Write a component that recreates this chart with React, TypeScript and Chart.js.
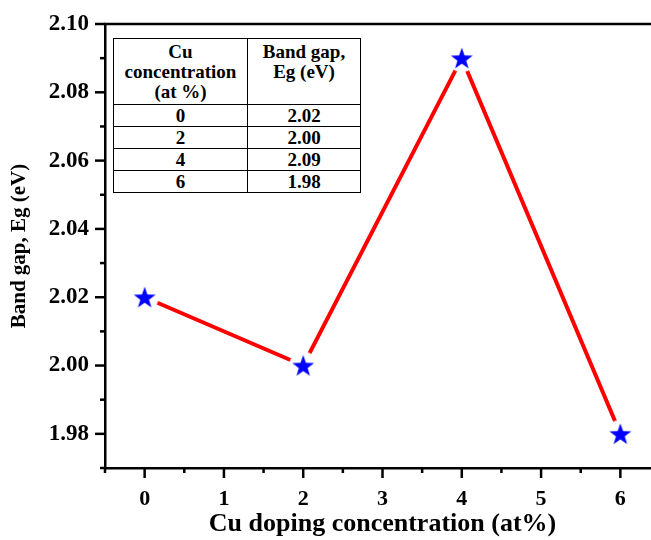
import React, { useEffect, useRef } from 'react';
import { Chart, registerables } from 'chart.js';

Chart.register(...registerables);

// ---- data ----
const concentrations = [0, 2, 4, 6];
const bandGaps = [2.02, 2.0, 2.09, 1.98];
const xTickValues = [0, 1, 2, 3, 4, 5, 6];
const yTickValues = [1.98, 2.0, 2.02, 2.04, 2.06, 2.08, 2.1];
const tableHeaderCol1 = ['Cu', 'concentration', '(at %)'];
const tableHeaderCol2 = ['Band gap,', 'Eg (eV)'];
const xTitle = 'Cu doping concentration (at%)';
const yTitle = 'Band gap, Eg (eV)';

const FONT = '"Liberation Serif", "Times New Roman", serif';

function makeStar(): HTMLCanvasElement {
  const size = 32;
  const c = document.createElement('canvas');
  c.width = size;
  c.height = size;
  const ctx = c.getContext('2d')!;
  const cx = size / 2;
  const cy = size / 2;
  ctx.fillStyle = '#ffffff';
  ctx.beginPath();
  ctx.arc(cx, cy, 14, 0, Math.PI * 2);
  ctx.fill();
  const outer = 11.5;
  const inner = 4.6;
  ctx.fillStyle = '#0000ff';
  ctx.beginPath();
  for (let i = 0; i < 10; i++) {
    const r = i % 2 === 0 ? outer : inner;
    const a = -Math.PI / 2 + (i * Math.PI) / 5;
    const px = cx + r * Math.cos(a);
    const py = cy + 1 + r * Math.sin(a);
    if (i === 0) ctx.moveTo(px, py);
    else ctx.lineTo(px, py);
  }
  ctx.closePath();
  ctx.fill();
  return c;
}

const tickPlugin = {
  id: 'originTicks',
  afterDraw(chart: any) {
    const { ctx, chartArea: a, scales } = chart;
    const x = scales.x;
    const y = scales.y;
    ctx.save();
    ctx.strokeStyle = '#000';
    ctx.lineWidth = 2.5;
    ctx.lineCap = 'butt';
    // top frame line
    ctx.beginPath();
    ctx.moveTo(a.left - 1, a.top);
    ctx.lineTo(a.right, a.top);
    ctx.stroke();
    // x ticks (major at integers, minor at halves)
    const xn = Math.round((x.max - x.min) / 0.5);
    for (let i = 0; i <= xn; i++) {
      const v = x.min + i * 0.5;
      const major = Math.abs(v - Math.round(v)) < 1e-6;
      const px = x.getPixelForValue(v);
      ctx.beginPath();
      ctx.moveTo(px, a.bottom);
      ctx.lineTo(px, a.bottom + (major ? 10 : 5));
      ctx.stroke();
    }
    // y ticks (major every 0.02, minor every 0.01)
    const yn = Math.round((y.max - y.min) / 0.01);
    for (let i = 0; i <= yn; i++) {
      const v = y.min + i * 0.01;
      const major = Math.round(v * 100) % 2 === 0;
      const py = y.getPixelForValue(v);
      ctx.beginPath();
      ctx.moveTo(a.left, py);
      ctx.lineTo(a.left - (major ? 10 : 5), py);
      ctx.stroke();
    }
    ctx.restore();
  },
};

export default function App() {
  const ref = useRef<HTMLCanvasElement>(null);

  useEffect(() => {
    if (!ref.current) return;
    const star = makeStar();
    const chart = new Chart(ref.current, {
      type: 'line',
      data: {
        datasets: [
          {
            data: concentrations.map((c, i) => ({ x: c, y: bandGaps[i] })),
            borderColor: '#ff0000',
            borderWidth: 4,
            pointStyle: star as any,
            pointRadius: 12,
            pointHoverRadius: 12,
            tension: 0,
            clip: false as any,
          },
        ],
      },
      options: {
        responsive: false,
        animation: false,
        events: [],
        layout: { padding: { top: 24, right: 40, left: 0, bottom: 0 } },
        plugins: { legend: { display: false }, tooltip: { enabled: false } },
        scales: {
          x: {
            type: 'linear',
            min: -0.5,
            max: 6.5,
            afterFit: (s: any) => {
              s.height = 72;
              s.paddingLeft = 0;
              s.paddingRight = 0;
            },
            afterBuildTicks: (s: any) => {
              s.ticks = xTickValues.map((v) => ({ value: v }));
            },
            grid: { display: true, drawOnChartArea: false, drawTicks: false },
            border: { display: true, color: '#000', width: 2.5 },
            ticks: {
              color: '#000',
              padding: 18,
              font: { family: FONT, size: 22, weight: 'bold' },
              callback: (v: any) => String(v),
            },
            title: {
              display: true,
              text: xTitle,
              color: '#000',
              font: { family: FONT, size: 26, weight: 'bold' },
              padding: { top: 0, bottom: 0 },
            },
          },
          y: {
            type: 'linear',
            min: 1.97,
            max: 2.1,
            afterFit: (s: any) => {
              s.width = 105;
              s.paddingTop = 0;
              s.paddingBottom = 0;
            },
            afterBuildTicks: (s: any) => {
              s.ticks = yTickValues.map((v) => ({ value: v }));
            },
            grid: { display: true, drawOnChartArea: false, drawTicks: false },
            border: { display: true, color: '#000', width: 2.5 },
            ticks: {
              color: '#000',
              padding: 16,
              font: { family: FONT, size: 23, weight: 'bold' },
              callback: (v: any) => Number(v).toFixed(2),
            },
            title: {
              display: true,
              text: yTitle,
              color: '#000',
              font: { family: FONT, size: 21, weight: 'bold' },
              padding: { top: 7, bottom: 0 },
            },
          },
        },
      },
      plugins: [tickPlugin],
    });
    return () => chart.destroy();
  }, []);

  const cell: React.CSSProperties = {
    border: '1.5px solid #000',
    padding: 0,
    textAlign: 'center',
    fontFamily: FONT,
    fontWeight: 'bold',
    fontSize: 19,
    lineHeight: '20px',
    color: '#000',
  };

  return (
    <div style={{ position: 'fixed', left: 0, top: 0, width: 700, height: 540, background: '#fff' }}>
      <canvas ref={ref} width={700} height={540} style={{ display: 'block', width: 700, height: 540 }} />
      <table
        style={{
          position: 'absolute',
          left: 113,
          top: 38,
          borderCollapse: 'collapse',
          background: '#fff',
        }}
      >
        <tbody>
          <tr style={{ height: 66 }}>
            <td style={{ ...cell, width: 133, verticalAlign: 'top', paddingTop: 3 }}>
              {tableHeaderCol1.map((t) => (
                <div key={t}>{t}</div>
              ))}
            </td>
            <td style={{ ...cell, width: 112, verticalAlign: 'top', paddingTop: 3 }}>
              {tableHeaderCol2.map((t) => (
                <div key={t}>{t}</div>
              ))}
            </td>
          </tr>
          {concentrations.map((c, i) => (
            <tr key={c} style={{ height: 22 }}>
              <td style={cell}>{c}</td>
              <td style={cell}>{bandGaps[i].toFixed(2)}</td>
            </tr>
          ))}
        </tbody>
      </table>
    </div>
  );
}
